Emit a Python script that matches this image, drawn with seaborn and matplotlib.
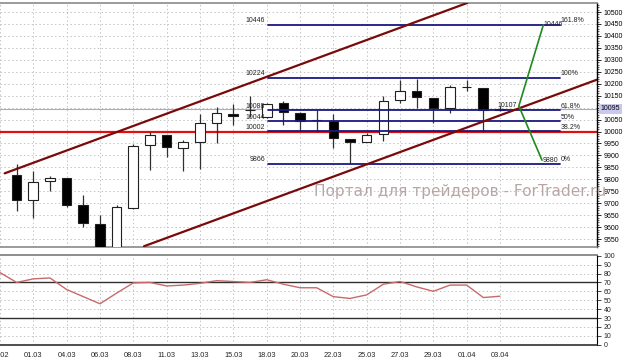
import matplotlib
matplotlib.use("Agg")
import matplotlib.pyplot as plt
import seaborn as sns
import numpy as np
import pandas as pd

# ---------------- data ----------------
bar_dates = ["28.02", "01.03", "03.03", "04.03", "05.03", "06.03", "07.03", "08.03",
             "10.03", "11.03", "12.03", "13.03", "14.03", "15.03", "17.03", "18.03",
             "19.03", "20.03", "21.03", "22.03", "24.03", "25.03", "26.03", "27.03",
             "28.03", "29.03", "31.03", "01.04", "02.04", "03.04"]
opens = [9818, 9713, 9794, 9804, 9691, 9613, 9510, 9680, 9944, 9985, 9932, 9957, 10037, 10075, 10090,
         10059, 10118, 10079, 10048, 10044, 9969, 9957, 9990, 10132, 10171, 10139, 10097, 10185, 10183, 10092]
highs = [9864, 9836, 9814, 9806, 9733, 9651, 9692, 9946, 9999, 9987, 9964, 10072, 10101, 10115, 10149,
         10118, 10129, 10082, 10090, 10072, 9969, 9992, 10149, 10215, 10218, 10139, 10195, 10215, 10183, 10107]
lows = [9669, 9637, 9752, 9685, 9599, 9480, 9490, 9675, 9839, 9892, 9835, 9842, 9951, 10027, 10062,
        10055, 10027, 10003, 9999, 9930, 9869, 9955, 9962, 10118, 10097, 10034, 10079, 10171, 9999, 10086]
closes = [9713, 9790, 9804, 9692, 9616, 9505, 9683, 9939, 9985, 9934, 9955, 10034, 10076, 10065, 10092,
          10115, 10083, 10045, 10048, 9972, 9957, 9985, 10128, 10169, 10143, 10097, 10185, 10185, 10092, 10095]

# RSI from bar -1 to bar 29
rsi_values = [81, 70, 74, 75, 62, 54, 46, 58, 69.5, 70, 66, 67, 69, 72, 71, 70, 73, 68, 64, 64,
              54, 52, 56, 68, 71, 65, 60, 67, 67, 53, 54.5]

x_tick_labels = ["27.02", "01.03", "04.03", "06.03", "08.03", "11.03", "13.03", "15.03", "18.03",
                 "20.03", "22.03", "25.03", "27.03", "29.03", "01.04", "03.04"]

fib_prices = [10446, 10224, 10088, 10044, 10002, 9866]
fib_pcts = ["161.8%", "100%", "61.8%", "50%", "38.2%", "0%"]

# channel lines (bar index, price) pairs
upper_channel = [(-0.72, 9825), (27.04, 10538)]
lower_channel = [(7.64, 9520), (34.9, 10219)]

# projection (green) points
proj_x = [31.60, 30.13, 31.52]
proj_y = [10446, 10107, 9880]
proj_labels = ["10446", "10107", "9880"]

current_price = 10095
level_red = 10000

# ---------------- figure ----------------
sns.set_style("white")
plt.rcParams["font.family"] = ["Liberation Sans", "DejaVu Sans"]

W, H = 628, 362
fig = plt.figure(figsize=(W / 100, H / 100), dpi=100)
ax = fig.add_axes([0, 1 - 247 / H, 597 / W, 244 / H])
ax2 = fig.add_axes([0, 1 - 345 / H, 597 / W, 90 / H])

xlim = (-0.818, 34.82)
grid_kw = dict(color="#c4c4c4", lw=0.7, ls=(0, (1.5, 2.5)))
tick_pos = [-1] + list(range(1, 30, 2))

# ----- top panel -----
ax.set_xlim(*xlim)
ax.set_ylim(9516.8, 10537.7)
ax.set_xticks(tick_pos)
ax.set_xticklabels([])
yt = np.arange(9550, 10501, 50)
ax.set_yticks(yt)
ax.set_yticklabels(["" if v == 10100 else str(v) for v in yt])
ax.set_yticks(np.arange(9520, 10540, 10), minor=True)
ax.yaxis.tick_right()
ax.tick_params(axis="y", which="major", labelsize=5, length=3, width=0.6, pad=2, colors="black", right=True)
ax.tick_params(axis="y", which="minor", length=1.5, width=0.5, right=True)
ax.tick_params(axis="x", length=0)
for v in yt:
    ax.axhline(v, zorder=0, **grid_kw)
for t in tick_pos:
    ax.axvline(t, zorder=0, **grid_kw)
for s in ["top", "bottom"]:
    ax.spines[s].set_color("#8a8a8a")
    ax.spines[s].set_linewidth(1.2)
ax.spines["right"].set_color("black")
ax.spines["right"].set_linewidth(1.0)
ax.spines["left"].set_visible(False)

df = pd.DataFrame({"open": opens, "high": highs, "low": lows, "close": closes})
df["x"] = np.arange(len(df))
df["bottom"] = df[["open", "close"]].min(axis=1)
df["height"] = (df["close"] - df["open"]).abs()
df["bull"] = df["close"] > df["open"]

ax.vlines(df["x"], df["low"], df["high"], color="#303030", lw=0.9, zorder=3)
ax.bar(df["x"], df["height"], bottom=df["bottom"], width=0.58,
       color=np.where(df["bull"], "white", "black"), edgecolor="#202020", linewidth=0.8, zorder=4)

# red level, current price line
ax.axhline(level_red, color="#e01010", lw=1.6, zorder=2)
ax.axhline(current_price, color="#a8a8e0", lw=0.8, zorder=2)

# fibonacci levels
fib_x0, fib_x1 = 15.06, 32.6
for p, lab in zip(fib_prices, fib_pcts):
    ax.plot([fib_x0, fib_x1], [p, p], color="#1a1a80", lw=1.3, zorder=5)
    ax.text(fib_x0 - 0.15, p + 2, str(p), fontsize=5, ha="right", va="bottom", color="#222222", zorder=7)
    ax.text(fib_x1 + 0.05, p + 2, lab, fontsize=5, ha="left", va="bottom", color="#222222",
            zorder=7, clip_on=False)

# channel lines
chan = pd.DataFrame({"x": [upper_channel[0][0], upper_channel[1][0]],
                     "y": [upper_channel[0][1], upper_channel[1][1]]})
sns.lineplot(data=chan, x="x", y="y", ax=ax, color="#7a0a0a", lw=1.6, zorder=6)
chan2 = pd.DataFrame({"x": [lower_channel[0][0], lower_channel[1][0]],
                      "y": [lower_channel[0][1], lower_channel[1][1]]})
sns.lineplot(data=chan2, x="x", y="y", ax=ax, color="#7a0a0a", lw=1.6, zorder=6)

# projection
ax.plot(proj_x, proj_y, color="#1f8a1f", lw=1.2, zorder=6)
ax.text(proj_x[0] + 0.02, proj_y[0], proj_labels[0], fontsize=5, ha="left", va="center", color="#222222", zorder=7)
ax.text(proj_x[1] - 0.1, proj_y[1] + 3, proj_labels[1], fontsize=5, ha="right", va="center", color="#222222", zorder=7)
ax.text(proj_x[2] + 0.02, proj_y[2], proj_labels[2], fontsize=5, ha="left", va="center", color="#222222", zorder=7)

# current price label on axis
ax.text(1.006, current_price, str(current_price), transform=ax.get_yaxis_transform(), fontsize=5,
        ha="left", va="center", color="black", clip_on=False, zorder=8,
        bbox=dict(boxstyle="square,pad=0.25", fc="#c8c8f0", ec="none"))

# watermark
ax.text(17.85, 9730, "Портал для трейдеров - ForTrader.ru", fontsize=11.1, color="#b8a6a6",
        ha="left", va="baseline", clip_on=False, zorder=9, family=["DejaVu Sans"])

ax.set_xlabel("")
ax.set_ylabel("")

# ----- bottom panel (RSI) -----
rsi_df = pd.DataFrame({"x": np.arange(-1, 30), "rsi": rsi_values})
ax2.set_xlim(*xlim)
ax2.set_ylim(-0.3, 100.8)
for v in [10, 20, 40, 50, 60, 80, 90]:
    ax2.axhline(v, zorder=0, **grid_kw)
for t in tick_pos:
    ax2.axvline(t, zorder=0, **grid_kw)
sns.lineplot(data=rsi_df, x="x", y="rsi", ax=ax2, color="#c86a6a", lw=1.0, zorder=3)
ax2.axhline(70, color="#303030", lw=1.0, zorder=2)
ax2.axhline(30, color="#303030", lw=1.0, zorder=2)
ax2.set_xticks(tick_pos)
ax2.set_xticklabels(x_tick_labels)
ax2.set_yticks(np.arange(0, 101, 10))
ax2.yaxis.tick_right()
ax2.tick_params(axis="y", labelsize=5, length=3, width=0.6, pad=2, right=True)
ax2.tick_params(axis="x", labelsize=5.3, length=0, pad=5)
ax2.spines["left"].set_visible(False)
ax2.spines["top"].set_color("#7a7a7a")
ax2.spines["top"].set_linewidth(1.2)
ax2.spines["bottom"].set_color("#303030")
ax2.spines["bottom"].set_linestyle((0, (2, 1)))
ax2.spines["bottom"].set_linewidth(1.2)
ax2.spines["right"].set_color("black")
ax2.set_xlabel("")
ax2.set_ylabel("")

fig.savefig("out.png", dpi=100)
